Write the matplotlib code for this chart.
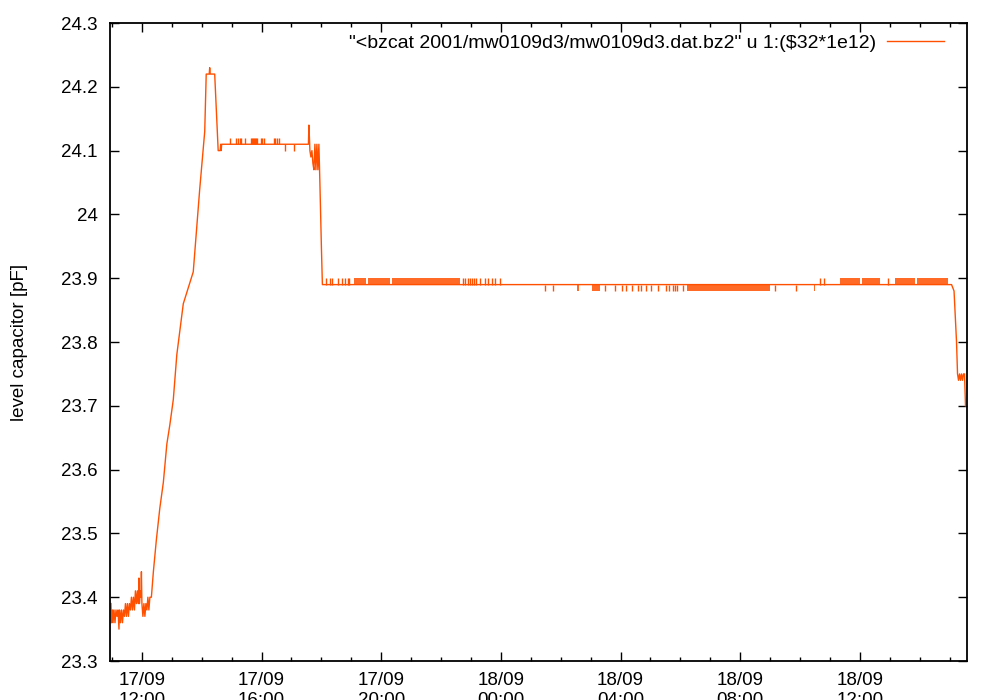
import matplotlib
matplotlib.use("Agg")
import matplotlib.pyplot as plt
import matplotlib.dates as mdates
from matplotlib.ticker import FormatStrFormatter
import pandas as pd

plt.rcParams['font.family'] = ['Liberation Sans', 'DejaVu Sans']

# ---- data ----
trace_time = [
    "17/09 10:58", "17/09 10:59", "17/09 11:01", "17/09 11:02", "17/09 11:04",
    "17/09 11:06", "17/09 11:08", "17/09 11:10", "17/09 11:12", "17/09 11:14",
    "17/09 11:15", "17/09 11:17", "17/09 11:19", "17/09 11:21", "17/09 11:23",
    "17/09 11:25", "17/09 11:27", "17/09 11:29", "17/09 11:31", "17/09 11:33",
    "17/09 11:35", "17/09 11:37", "17/09 11:39", "17/09 11:41", "17/09 11:43",
    "17/09 11:45", "17/09 11:47", "17/09 11:49", "17/09 11:51", "17/09 11:53",
    "17/09 11:54", "17/09 11:55", "17/09 11:57", "17/09 11:58", "17/09 11:59",
    "17/09 12:00", "17/09 12:02", "17/09 12:04", "17/09 12:06", "17/09 12:08",
    "17/09 12:10", "17/09 12:12", "17/09 12:14", "17/09 12:16", "17/09 12:19",
    "17/09 12:23", "17/09 12:29", "17/09 12:36", "17/09 12:43", "17/09 12:50",
    "17/09 12:56", "17/09 13:03", "17/09 13:10", "17/09 13:23", "17/09 13:43",
    "17/09 13:46", "17/09 13:56", "17/09 14:06", "17/09 14:09", "17/09 14:15",
    "17/09 14:16", "17/09 14:17", "17/09 14:26", "17/09 14:33", "17/09 14:37",
    "17/09 14:38", "17/09 14:39", "17/09 14:40", "17/09 17:34", "17/09 17:35",
    "17/09 17:37", "17/09 17:39", "17/09 17:41", "17/09 17:43", "17/09 17:45",
    "17/09 17:47", "17/09 17:49", "17/09 17:51", "17/09 17:53", "17/09 17:55",
    "17/09 17:57", "17/09 18:00", "17/09 18:02", "18/09 15:04", "18/09 15:09",
    "18/09 15:14", "18/09 15:16", "18/09 15:18", "18/09 15:20", "18/09 15:22",
    "18/09 15:24", "18/09 15:26", "18/09 15:28", "18/09 15:30", "18/09 15:32",
]
trace_value = [
    23.39, 23.36, 23.38, 23.36, 23.38,
    23.36, 23.38, 23.37, 23.38, 23.35,
    23.38, 23.36, 23.38, 23.36, 23.38,
    23.37, 23.39, 23.37, 23.39, 23.37,
    23.39, 23.38, 23.40, 23.38, 23.40,
    23.38, 23.41, 23.39, 23.41, 23.39,
    23.43, 23.39, 23.41, 23.40, 23.44,
    23.39, 23.37, 23.39, 23.37, 23.39,
    23.38, 23.40, 23.38, 23.40, 23.40,
    23.44, 23.49, 23.54, 23.58, 23.64,
    23.67, 23.71, 23.78, 23.86, 23.91,
    23.94, 24.04, 24.13, 24.22, 24.22,
    24.23, 24.22, 24.22, 24.10, 24.10,
    24.11, 24.10, 24.11, 24.11, 24.14,
    24.10, 24.09, 24.10, 24.08, 24.07,
    24.11, 24.07, 24.11, 24.07, 24.11,
    24.05, 23.95, 23.89, 23.89, 23.88,
    23.80, 23.75, 23.74, 23.75, 23.74,
    23.75, 23.74, 23.75, 23.75, 23.70,
]

plateau_level = 24.11
plateau_up_times = [
    "17/09 14:57", "17/09 15:09", "17/09 15:13", "17/09 15:16", "17/09 15:19",
    "17/09 15:26", "17/09 15:39", "17/09 15:41", "17/09 15:43", "17/09 15:45",
    "17/09 15:47", "17/09 15:49", "17/09 15:51", "17/09 15:59", "17/09 16:01",
    "17/09 16:04", "17/09 16:24", "17/09 16:27", "17/09 16:31", "17/09 16:34",
]
plateau_down_times = ["17/09 16:48", "17/09 17:05"]

flat_level = 23.89
flat_up_times = [
    "17/09 18:09", "17/09 18:17", "17/09 18:22", "17/09 18:34", "17/09 18:41",
    "17/09 18:47", "17/09 18:54", "17/09 18:56", "17/09 22:44", "17/09 22:48",
    "17/09 22:54", "17/09 22:58", "17/09 23:02", "17/09 23:06", "17/09 23:11",
    "17/09 23:18", "17/09 23:28", "17/09 23:35", "17/09 23:42", "17/09 23:48",
    "17/09 23:58", "18/09 10:40", "18/09 10:48", "18/09 12:57",
]
flat_down_times = [
    "18/09 01:28", "18/09 01:45", "18/09 03:29", "18/09 03:49", "18/09 04:02",
    "18/09 04:12", "18/09 04:24", "18/09 04:36", "18/09 04:42", "18/09 04:52",
    "18/09 05:02", "18/09 05:15", "18/09 05:32", "18/09 05:38", "18/09 05:45",
    "18/09 05:49", "18/09 05:54", "18/09 06:06", "18/09 09:10", "18/09 09:53",
]
dense_up_start = ["17/09 19:06", "17/09 19:34", "17/09 20:21", "18/09 11:20", "18/09 12:04", "18/09 13:10", "18/09 13:54"]
dense_up_end = ["17/09 19:30", "17/09 20:17", "17/09 22:38", "18/09 12:00", "18/09 12:40", "18/09 13:50", "18/09 14:57"]
dense_down_start = ["18/09 02:32", "18/09 03:02", "18/09 06:13", "18/09 10:28"]
dense_down_end = ["18/09 02:37", "18/09 03:18", "18/09 09:00", "18/09 10:31"]

x_limits = ["17/09 10:56", "18/09 15:35"]
y_ticks = [23.3, 23.4, 23.5, 23.6, 23.7, 23.8, 23.9, 24.0, 24.1, 24.2, 24.3]

series_label = '"<bzcat 2001/mw0109d3/mw0109d3.dat.bz2" u 1:($32*1e12)'
y_label = 'level capacitor [pF]'


def ts(lst):
    return pd.to_datetime(lst, format="%d/%m %H:%M")


color = '#ff5000'
fs = 13.5

fig = plt.figure(figsize=(10, 7), dpi=100)
ax = fig.add_axes([0.11, 0.0557, 0.857, 0.9114])

ax.plot(ts(trace_time), trace_value, color=color, lw=1.0, label=series_label)
ax.vlines(ts(plateau_up_times), plateau_level, 24.12, color=color, lw=1.0)
ax.vlines(ts(plateau_down_times), 24.10, plateau_level, color=color, lw=1.0)
ax.vlines(ts(flat_up_times), flat_level, 23.90, color=color, lw=1.0)
ax.vlines(ts(flat_down_times), 23.88, flat_level, color=color, lw=1.0)
for s, e in zip(ts(dense_up_start), ts(dense_up_end)):
    ax.fill_between([s, e], flat_level, 23.90, color=color, alpha=0.85, lw=0)
for s, e in zip(ts(dense_down_start), ts(dense_down_end)):
    ax.fill_between([s, e], 23.88, flat_level, color=color, alpha=0.85, lw=0)

xl = ts(x_limits)
ax.set_xlim(xl[0], xl[1])
ax.set_ylim(y_ticks[0], y_ticks[-1])
ax.set_yticks(y_ticks)
ax.yaxis.set_major_formatter(FormatStrFormatter('%g'))

ax.xaxis.set_major_locator(mdates.HourLocator(byhour=[0, 4, 8, 12, 16, 20]))
ax.xaxis.set_minor_locator(mdates.HourLocator())
ax.xaxis.set_major_formatter(mdates.DateFormatter('%d/%m\n%H:%M'))

ax.tick_params(which='both', direction='in', top=True, right=True, width=1.0)
ax.tick_params(which='major', length=6.5, labelsize=fs)
ax.tick_params(which='minor', length=3)
ax.tick_params(axis='y', pad=9)
ax.tick_params(axis='x', pad=8)
for sp in ax.spines.values():
    sp.set_linewidth(1.3)

ax.legend(loc='upper right', bbox_to_anchor=(0.9825, 0.995), frameon=False,
          markerfirst=False, handlelength=2.95, handletextpad=0.55,
          fontsize=14, borderaxespad=0.0)

fig.text(0.02, 0.511, y_label, rotation=90, va='center', ha='center', fontsize=fs)

fig.savefig('out.png', dpi=100)
